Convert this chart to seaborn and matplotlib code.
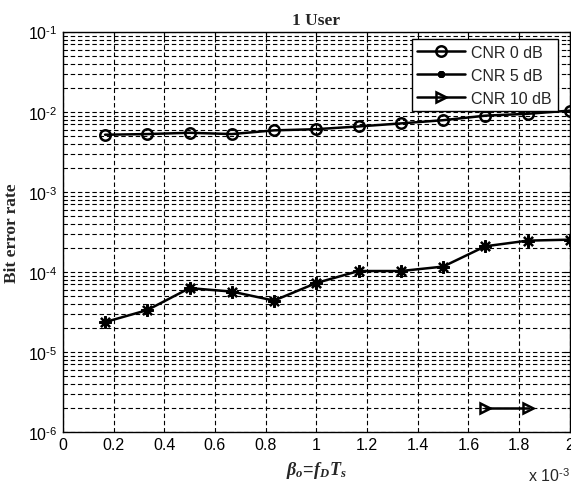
import numpy as np
import pandas as pd
import matplotlib
matplotlib.use("Agg")
import matplotlib.pyplot as plt
import seaborn as sns
from matplotlib.ticker import LogLocator, NullFormatter, FixedLocator, FuncFormatter
from matplotlib.lines import Line2D

sns.set_theme(style="white")
plt.rcParams['font.family'] = ['Liberation Sans', 'DejaVu Sans']
plt.rcParams['mathtext.fontset'] = 'custom'
plt.rcParams['mathtext.rm'] = 'Liberation Sans'
plt.rcParams['mathtext.it'] = 'Liberation Serif:italic:bold'
plt.rcParams['mathtext.bf'] = 'Liberation Serif:bold'

# x in units of 1e-3
x_all = [1/6, 2/6, 3/6, 4/6, 5/6, 1.0, 7/6, 8/6, 9/6, 10/6, 11/6, 2.0]
ber_0db = [5.2e-3, 5.3e-3, 5.5e-3, 5.3e-3, 5.9e-3, 6.1e-3, 6.6e-3, 7.2e-3, 7.9e-3, 9.0e-3, 9.5e-3, 1.04e-2]
ber_5db = [2.37e-5, 3.35e-5, 6.3e-5, 5.7e-5, 4.4e-5, 7.3e-5, 1.03e-4, 1.03e-4, 1.17e-4, 2.1e-4, 2.47e-4, 2.54e-4]
x_10db = [10/6, 11/6]
ber_10db = [2e-6, 2e-6]
labels = ["CNR 0 dB", "CNR 5 dB", "CNR 10 dB"]
x_ticklabels = ["0", "0.2", "0.4", "0.6", "0.8", "1", "1.2", "1.4", "1.6", "1.8", "2"]

df = pd.concat([
    pd.DataFrame({"x": x_all, "ber": ber_0db, "series": labels[0]}),
    pd.DataFrame({"x": x_all, "ber": ber_5db, "series": labels[1]}),
    pd.DataFrame({"x": x_10db, "ber": ber_10db, "series": labels[2]}),
])

star = (8, 2, 0)
fig = plt.figure(figsize=(5.71, 4.85), dpi=100)
ax = fig.add_axes([0.110, 0.107, 0.888, 0.825])

sns.lineplot(data=df, x="x", y="ber", hue="series", style="series",
             palette=["black"] * 3, markers=["o", "*", ">"], dashes=False,
             ax=ax, linewidth=1.8, markersize=7, legend=False)
for ln, i in zip(ax.get_lines(), range(3)):
    if i in (0, 2):
        ln.set_markerfacecolor("none")
        ln.set_markeredgecolor("black")
        ln.set_markeredgewidth(1.8)
        ln.set_markersize(7.5)
    else:
        ln.set_marker(star)
        ln.set_markersize(9)
        ln.set_markerfacecolor("black")
        ln.set_markeredgecolor("black")
        ln.set_markeredgewidth(1.6)

ax.set_yscale("log")
ax.set_xlim(0, 2)
ax.set_ylim(1e-6, 1e-1)
ax.xaxis.set_major_locator(FixedLocator(np.arange(0, 2.01, 0.2)))
ax.set_xticklabels(x_ticklabels)
ax.yaxis.set_major_locator(LogLocator(base=10, numticks=10))
ax.yaxis.set_major_formatter(FuncFormatter(
    lambda v, p: r"10$^{\text{-}%d}$" % int(round(-np.log10(v))) if v < 1 else "10$^{0}$"))
ax.yaxis.set_minor_locator(LogLocator(base=10, subs=np.arange(2, 10), numticks=20))
ax.yaxis.set_minor_formatter(NullFormatter())

ax.grid(True, which="major", axis="both", color="black", linestyle=(0, (4, 2.5)), linewidth=0.8)
ax.grid(True, which="minor", axis="y", color="black", linestyle=(0, (4, 2.5)), linewidth=0.8)
ax.tick_params(which="both", direction="in", top=True, right=True, labelsize=11.5, colors="black",
               length=4, width=0.8)
ax.tick_params(which="minor", length=2)
ax.tick_params(axis="y", pad=4)
for s in ax.spines.values():
    s.set_color("black")
    s.set_linewidth(1.0)

ax.set_title("1 User", fontfamily="Liberation Serif", fontweight="bold", fontsize=12.5, pad=6)
ax.set_ylabel("Bit error rate", fontfamily="Liberation Serif", fontweight="bold", fontsize=12.5)
ax.yaxis.set_label_coords(-0.085, 0.5)
ax.set_xlabel(r"$\beta_o\!=\!f_D T_s$", fontsize=13, labelpad=5)
ax.text(1.0, -0.085, r"x 10$^{\text{-}3}$", transform=ax.transAxes, ha="right", va="top", fontsize=11.5)

handles = [
    Line2D([], [], color="black", lw=1.8, marker="o", markersize=7.5, markerfacecolor="none", markeredgewidth=1.8),
    Line2D([], [], color="black", lw=1.8, marker=star, markersize=5, markerfacecolor="black", markeredgewidth=1.8),
    Line2D([], [], color="black", lw=1.8, marker=">", markersize=7.5, markerfacecolor="none", markeredgewidth=1.8),
]
leg = ax.legend(handles, labels, loc="upper right", fontsize=11.5, frameon=True, fancybox=False,
                edgecolor="black", framealpha=1, borderpad=0.35, handlelength=3.0, handletextpad=0.4,
                labelspacing=0.5, borderaxespad=0, bbox_to_anchor=(0.976, 0.9825))
leg.get_frame().set_linewidth(1.0)

fig.savefig("out.png", dpi=100, facecolor="white")
